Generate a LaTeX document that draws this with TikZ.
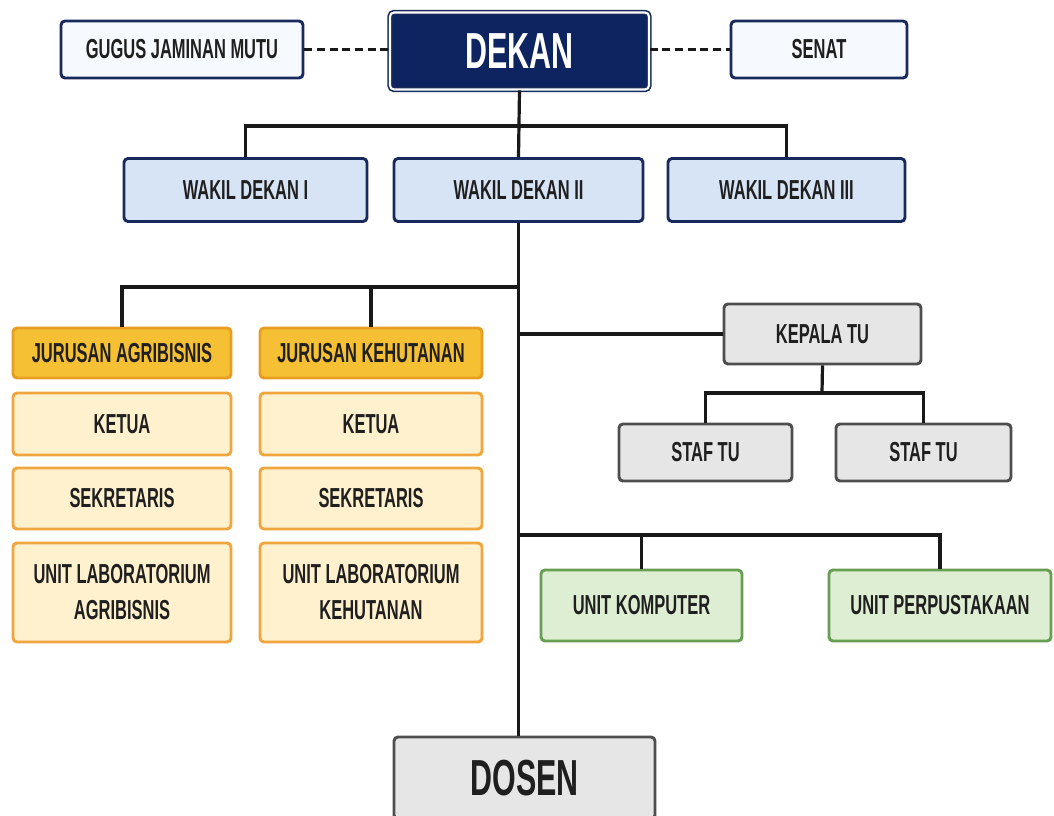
\documentclass[tikz,border=0pt]{standalone}
\usepackage{fontspec}
\setmainfont{Liberation Sans}[FakeStretch=0.6]
\definecolor{navy}{RGB}{24,42,92}
\definecolor{navyfill}{RGB}{14,36,96}
\definecolor{paleblue}{RGB}{246,249,253}
\definecolor{wdblue}{RGB}{214,228,246}
\definecolor{gold}{RGB}{246,192,52}
\definecolor{goldline}{RGB}{232,158,32}
\definecolor{cream}{RGB}{255,240,206}
\definecolor{creamline}{RGB}{240,166,62}
\definecolor{lgray}{RGB}{230,230,230}
\definecolor{dgray}{RGB}{78,78,78}
\definecolor{lgreen}{RGB}{222,238,211}
\definecolor{dgreen}{RGB}{102,158,82}
\begin{document}
\begin{tikzpicture}[x=0.75pt,y=-0.75pt,
  sz/.style 2 args={minimum width=#1*0.75pt, minimum height=#2*0.75pt},
  box/.style={draw, rounded corners=3pt, line width=2.2pt, inner sep=0pt, align=center,
    text=black!88, font=\bfseries\fontsize{20.6}{27}\selectfont},
  bigbox/.style={box, font=\bfseries\fontsize{38}{40}\selectfont},
  topbox/.style={box, draw=navy, fill=paleblue},
  wdbox/.style={box, draw=navy, fill=wdblue},
  jurbox/.style={box, draw=goldline, fill=gold},
  itembox/.style={box, draw=creamline, fill=cream},
  tubox/.style={box, draw=dgray, fill=lgray},
  unitbox/.style={box, draw=dgreen, fill=lgreen},
  link/.style={line width=2.4pt, black!90},
  tie/.style={link, dashed, dash pattern=on 6pt off 3.5pt}]
  % Rahmen
  \clip (0,0) rectangle (1054,816);
  \fill[white] (0,0) rectangle (1054,816);
  % Pimpinan
  \node[bigbox, draw=navy, fill=navyfill, text=white, line width=1.2pt,
    double=white, double distance=1.6pt, sz={259}{77}] (dekan) at (519.5,51) {DEKAN};
  \node[topbox, sz={242}{57}] (gugus) at (182,49.5) {GUGUS JAMINAN MUTU};
  \node[topbox, sz={176}{57}] (senat) at (819,49.5) {SENAT};
  % Wakil Dekan
  \node[wdbox, sz={243}{63}] (wd1) at (245.5,190) {WAKIL DEKAN I};
  \node[wdbox, sz={249}{63}] (wd2) at (518.5,190) {WAKIL DEKAN II};
  \node[wdbox, sz={237}{63}] (wd3) at (786.5,190) {WAKIL DEKAN III};
  % Jurusan
  \node[jurbox, sz={218}{50}] (jur1) at (122,353) {JURUSAN AGRIBISNIS};
  \node[itembox, sz={218}{62}] (ketua1) at (122,424) {KETUA};
  \node[itembox, sz={218}{61}] (sekr1) at (122,498.5) {SEKRETARIS};
  \node[itembox, sz={218}{99}] (lab1) at (122,592.5) {UNIT LABORATORIUM\\AGRIBISNIS};
  \node[jurbox, sz={222}{50}] (jur2) at (371,353) {JURUSAN KEHUTANAN};
  \node[itembox, sz={222}{62}] (ketua2) at (371,424) {KETUA};
  \node[itembox, sz={222}{61}] (sekr2) at (371,498.5) {SEKRETARIS};
  \node[itembox, sz={222}{99}] (lab2) at (371,592.5) {UNIT LABORATORIUM\\KEHUTANAN};
  % Tata Usaha
  \node[tubox, sz={197}{60}] (kepala) at (822.5,334) {KEPALA TU};
  \node[tubox, sz={173}{57}] (staf1) at (705.5,452.5) {STAF TU};
  \node[tubox, sz={175}{57}] (staf2) at (923.5,452.5) {STAF TU};
  % Unit
  \node[unitbox, sz={201}{71}] (ukom) at (641.5,605.5) {UNIT KOMPUTER};
  \node[unitbox, sz={222}{71}] (upus) at (940,605.5) {UNIT PERPUSTAKAAN};
  % Dosen
  \node[bigbox, draw=dgray, fill=lgray, sz={261}{82}] (dosen) at (524.5,778) {DOSEN};
  % Verbindungen
  \coordinate (busA) at (519,126);
  \coordinate (busB) at (519,287);
  \coordinate (busD) at (822,393);
  \coordinate (busE) at (519,535);
  \draw[tie] (gugus.east) -- (gugus.east -| dekan.west);
  \draw[tie] (senat.west -| dekan.east) -- (senat.west);
  \draw[link] (dekan.south) -- (wd2.north);
  \draw[link] (wd1.north) |- (busA) -| (wd3.north);
  \draw[link] (wd2.south) -- (wd2.south |- dosen.north);
  \draw[link] (jur1.north) |- (busB);
  \draw[link] (jur2.north) -- (jur2.north |- busB);
  \draw[link] (wd2.south |- kepala.west) -- (kepala.west);
  \draw[link] (kepala.south) -- (busD);
  \draw[link] (staf1.north) |- (busD) -| (staf2.north);
  \draw[link] (busE) -| (upus.north);
  \draw[link] (ukom.north) -- (ukom.north |- busE);
\end{tikzpicture}
\end{document}
